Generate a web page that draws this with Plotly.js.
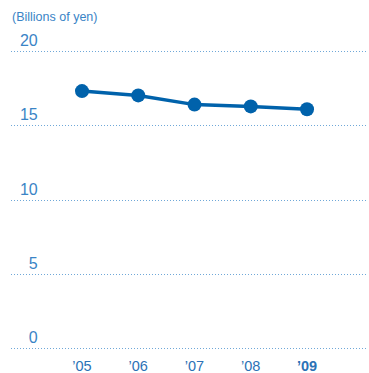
<!DOCTYPE html>
<html>
<head>
<meta charset="utf-8">
<script src="https://cdn.plot.ly/plotly-3.0.1.min.js"></script>
<style>html,body{margin:0;padding:0;background:#fff;}#chart{width:369px;height:373px;}</style>
</head>
<body>
<div id="chart"></div>
<script>
const years = ["’05", "’06", "’07", "’08", "’09"];
const yearLabels = ["’05", "’06", "’07", "’08", "<b>’09</b>"];
const values = [17.33, 17.04, 16.42, 16.30, 16.11];
const yTicks = [0, 5, 10, 15, 20];
const unitLabel = "(Billions of yen)";

const lineColor = "#0062ab";
const textBlue = "#3a84c6";

const traces = [
  {
    x: years, y: values, type: "scatter", mode: "lines+markers",
    line: {color: lineColor, width: 3.5},
    marker: {color: lineColor, size: 14},
    hoverinfo: "skip", showlegend: false, cliponaxis: false
  },
  {
    x: years, y: values, type: "scatter", mode: "markers", yaxis: "y2",
    marker: {opacity: 0}, hoverinfo: "skip", showlegend: false
  }
];

const layout = {
  width: 369, height: 373,
  margin: {l: 11, r: 1, t: 43.9, b: 17.3},
  paper_bgcolor: "#fff", plot_bgcolor: "#fff",
  font: {family: "Liberation Sans, Arial, sans-serif", color: textBlue},
  xaxis: {
    type: "category", range: [-1.262, 5.084],
    showgrid: false, zeroline: false, showline: false, ticks: "",
    tickvals: years, ticktext: yearLabels,
    tickfont: {size: 14.5, color: "#2b72b6", family: "Liberation Sans, Arial, sans-serif"},
    ticklabelstandoff: -1
  },
  yaxis: {
    range: [-0.5, 20.5], tickvals: yTicks, showticklabels: false,
    showgrid: true, gridcolor: "#6fa8d8", gridwidth: 1, griddash: "1px,2px",
    zeroline: false, showline: false, ticks: ""
  },
  yaxis2: {
    overlaying: "y", matches: "y", anchor: "free", position: 0.075, side: "left",
    range: [-0.5, 20.5], tickvals: yTicks, ticktext: yTicks.map(String),
    showgrid: false, zeroline: false, showline: false, ticks: "",
    tickfont: {size: 16, color: textBlue}, ticklabelshift: -11
  },
  annotations: [{
    text: unitLabel, xref: "paper", yref: "paper", x: -0.003, y: 1.0,
    xanchor: "left", yanchor: "bottom", yshift: 18, showarrow: false,
    font: {size: 12.5, color: textBlue}
  }]
};

Plotly.newPlot("chart", traces, layout, {staticPlot: true, displayModeBar: false});
</script>
</body>
</html>
